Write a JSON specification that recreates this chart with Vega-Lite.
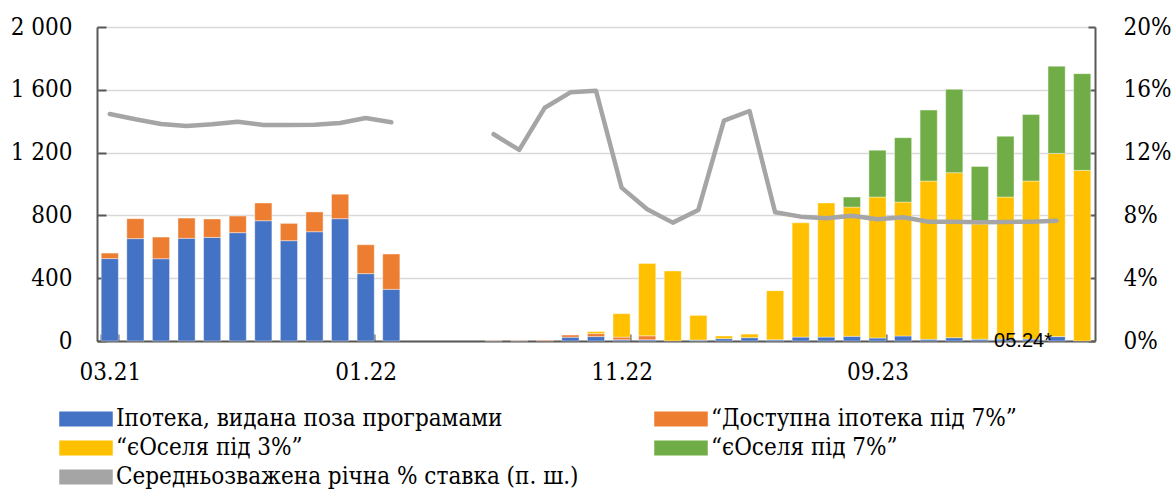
{
  "$schema": "https://vega.github.io/schema/vega-lite/v6.json",
  "width": 998,
  "height": 314,
  "autosize": {"type": "none"},
  "padding": {"left": 97, "top": 27, "right": 79, "bottom": 148},
  "background": "white",
  "config": {
    "font": "DejaVu Serif Condensed, DejaVu Serif",
    "view": {"stroke": null},
    "axis": {
      "labelFont": "DejaVu Serif Condensed, DejaVu Serif",
      "labelFontSize": 24,
      "labelColor": "black",
      "domainColor": "#595959",
      "domainWidth": 2,
      "tickColor": "#595959",
      "tickWidth": 2,
      "title": null
    }
  },
  "datasets": {
    "bars": [
      {"month": "03.21", "series": "Іпотека, видана поза програмами", "value": 525},
      {"month": "03.21", "series": "“Доступна іпотека під 7%”", "value": 35},
      {"month": "04.21", "series": "Іпотека, видана поза програмами", "value": 652},
      {"month": "04.21", "series": "“Доступна іпотека під 7%”", "value": 127},
      {"month": "05.21", "series": "Іпотека, видана поза програмами", "value": 524},
      {"month": "05.21", "series": "“Доступна іпотека під 7%”", "value": 138},
      {"month": "06.21", "series": "Іпотека, видана поза програмами", "value": 654},
      {"month": "06.21", "series": "“Доступна іпотека під 7%”", "value": 129},
      {"month": "07.21", "series": "Іпотека, видана поза програмами", "value": 660},
      {"month": "07.21", "series": "“Доступна іпотека під 7%”", "value": 117},
      {"month": "08.21", "series": "Іпотека, видана поза програмами", "value": 690},
      {"month": "08.21", "series": "“Доступна іпотека під 7%”", "value": 106},
      {"month": "09.21", "series": "Іпотека, видана поза програмами", "value": 766},
      {"month": "09.21", "series": "“Доступна іпотека під 7%”", "value": 113},
      {"month": "10.21", "series": "Іпотека, видана поза програмами", "value": 639},
      {"month": "10.21", "series": "“Доступна іпотека під 7%”", "value": 110},
      {"month": "11.21", "series": "Іпотека, видана поза програмами", "value": 696},
      {"month": "11.21", "series": "“Доступна іпотека під 7%”", "value": 126},
      {"month": "12.21", "series": "Іпотека, видана поза програмами", "value": 779},
      {"month": "12.21", "series": "“Доступна іпотека під 7%”", "value": 156},
      {"month": "01.22", "series": "Іпотека, видана поза програмами", "value": 429},
      {"month": "01.22", "series": "“Доступна іпотека під 7%”", "value": 184},
      {"month": "02.22", "series": "Іпотека, видана поза програмами", "value": 329},
      {"month": "02.22", "series": "“Доступна іпотека під 7%”", "value": 225},
      {"month": "06.22", "series": "“Доступна іпотека під 7%”", "value": 2},
      {"month": "07.22", "series": "“Доступна іпотека під 7%”", "value": 2},
      {"month": "08.22", "series": "“Доступна іпотека під 7%”", "value": 5},
      {"month": "09.22", "series": "Іпотека, видана поза програмами", "value": 24},
      {"month": "09.22", "series": "“Доступна іпотека під 7%”", "value": 14},
      {"month": "10.22", "series": "Іпотека, видана поза програмами", "value": 28},
      {"month": "10.22", "series": "“Доступна іпотека під 7%”", "value": 19},
      {"month": "10.22", "series": "“єОселя під 3%”", "value": 13},
      {"month": "11.22", "series": "Іпотека, видана поза програмами", "value": 8},
      {"month": "11.22", "series": "“Доступна іпотека під 7%”", "value": 17},
      {"month": "11.22", "series": "“єОселя під 3%”", "value": 149},
      {"month": "12.22", "series": "Іпотека, видана поза програмами", "value": 8},
      {"month": "12.22", "series": "“Доступна іпотека під 7%”", "value": 25},
      {"month": "12.22", "series": "“єОселя під 3%”", "value": 461},
      {"month": "01.23", "series": "“єОселя під 3%”", "value": 446},
      {"month": "02.23", "series": "Іпотека, видана поза програмами", "value": 6},
      {"month": "02.23", "series": "“єОселя під 3%”", "value": 157},
      {"month": "03.23", "series": "Іпотека, видана поза програмами", "value": 15},
      {"month": "03.23", "series": "“єОселя під 3%”", "value": 17},
      {"month": "04.23", "series": "Іпотека, видана поза програмами", "value": 21},
      {"month": "04.23", "series": "“єОселя під 3%”", "value": 23},
      {"month": "05.23", "series": "Іпотека, видана поза програмами", "value": 8},
      {"month": "05.23", "series": "“єОселя під 3%”", "value": 312},
      {"month": "06.23", "series": "Іпотека, видана поза програмами", "value": 25},
      {"month": "06.23", "series": "“єОселя під 3%”", "value": 728},
      {"month": "07.23", "series": "Іпотека, видана поза програмами", "value": 25},
      {"month": "07.23", "series": "“єОселя під 3%”", "value": 854},
      {"month": "08.23", "series": "Іпотека, видана поза програмами", "value": 30},
      {"month": "08.23", "series": "“єОселя під 3%”", "value": 823},
      {"month": "08.23", "series": "“єОселя під 7%”", "value": 64},
      {"month": "09.23", "series": "Іпотека, видана поза програмами", "value": 19},
      {"month": "09.23", "series": "“єОселя під 3%”", "value": 898},
      {"month": "09.23", "series": "“єОселя під 7%”", "value": 298},
      {"month": "10.23", "series": "Іпотека, видана поза програмами", "value": 32},
      {"month": "10.23", "series": "“єОселя під 3%”", "value": 853},
      {"month": "10.23", "series": "“єОселя під 7%”", "value": 410},
      {"month": "11.23", "series": "Іпотека, видана поза програмами", "value": 11},
      {"month": "11.23", "series": "“єОселя під 3%”", "value": 1008},
      {"month": "11.23", "series": "“єОселя під 7%”", "value": 452},
      {"month": "12.23", "series": "Іпотека, видана поза програмами", "value": 21},
      {"month": "12.23", "series": "“єОселя під 3%”", "value": 1051},
      {"month": "12.23", "series": "“єОселя під 7%”", "value": 531},
      {"month": "01.24", "series": "Іпотека, видана поза програмами", "value": 11},
      {"month": "01.24", "series": "“єОселя під 3%”", "value": 734},
      {"month": "01.24", "series": "“єОселя під 7%”", "value": 367},
      {"month": "02.24", "series": "Іпотека, видана поза програмами", "value": 12},
      {"month": "02.24", "series": "“єОселя під 3%”", "value": 905},
      {"month": "02.24", "series": "“єОселя під 7%”", "value": 387},
      {"month": "03.24", "series": "Іпотека, видана поза програмами", "value": 12},
      {"month": "03.24", "series": "“єОселя під 3%”", "value": 1007},
      {"month": "03.24", "series": "“єОселя під 7%”", "value": 423},
      {"month": "04.24", "series": "Іпотека, видана поза програмами", "value": 28},
      {"month": "04.24", "series": "“єОселя під 3%”", "value": 1167},
      {"month": "04.24", "series": "“єОселя під 7%”", "value": 555},
      {"month": "05.24", "series": "“єОселя під 3%”", "value": 1087},
      {"month": "05.24", "series": "“єОселя під 7%”", "value": 616}
    ],
    "rate": [
      {"month": "03.21", "rate": 14.46, "seg": 1},
      {"month": "04.21", "rate": 14.12, "seg": 1},
      {"month": "05.21", "rate": 13.82, "seg": 1},
      {"month": "06.21", "rate": 13.69, "seg": 1},
      {"month": "07.21", "rate": 13.8, "seg": 1},
      {"month": "08.21", "rate": 13.97, "seg": 1},
      {"month": "09.21", "rate": 13.76, "seg": 1},
      {"month": "10.21", "rate": 13.76, "seg": 1},
      {"month": "11.21", "rate": 13.78, "seg": 1},
      {"month": "12.21", "rate": 13.89, "seg": 1},
      {"month": "01.22", "rate": 14.2, "seg": 1},
      {"month": "02.22", "rate": 13.93, "seg": 1},
      {"month": "06.22", "rate": 13.17, "seg": 2},
      {"month": "07.22", "rate": 12.17, "seg": 2},
      {"month": "08.22", "rate": 14.86, "seg": 2},
      {"month": "09.22", "rate": 15.84, "seg": 2},
      {"month": "10.22", "rate": 15.94, "seg": 2},
      {"month": "11.22", "rate": 9.77, "seg": 2},
      {"month": "12.22", "rate": 8.39, "seg": 2},
      {"month": "01.23", "rate": 7.54, "seg": 2},
      {"month": "02.23", "rate": 8.35, "seg": 2},
      {"month": "03.23", "rate": 14.04, "seg": 2},
      {"month": "04.23", "rate": 14.65, "seg": 2},
      {"month": "05.23", "rate": 8.2, "seg": 2},
      {"month": "06.23", "rate": 7.92, "seg": 2},
      {"month": "07.23", "rate": 7.82, "seg": 2},
      {"month": "08.23", "rate": 7.98, "seg": 2},
      {"month": "09.23", "rate": 7.75, "seg": 2},
      {"month": "10.23", "rate": 7.88, "seg": 2},
      {"month": "11.23", "rate": 7.6, "seg": 2},
      {"month": "12.23", "rate": 7.6, "seg": 2},
      {"month": "01.24", "rate": 7.56, "seg": 2},
      {"month": "02.24", "rate": 7.58, "seg": 2},
      {"month": "03.24", "rate": 7.6, "seg": 2},
      {"month": "04.24", "rate": 7.66, "seg": 2}
    ],
    "note": [{"label": "05.24*"}]
  },
  "layer": [
    {
      "layer": [
        {
          "data": {"name": "bars"},
          "mark": {"type": "bar", "stroke": "white", "strokeWidth": 0.8, "strokeOpacity": 0.5},
          "encoding": {
            "x": {
              "field": "month",
              "type": "nominal",
              "sort": null,
              "scale": {
                "domain": ["03.21","04.21","05.21","06.21","07.21","08.21","09.21","10.21","11.21","12.21","01.22","02.22","03.22","04.22","05.22","06.22","07.22","08.22","09.22","10.22","11.22","12.22","01.23","02.23","03.23","04.23","05.23","06.23","07.23","08.23","09.23","10.23","11.23","12.23","01.24","02.24","03.24","04.24","05.24"],
                "paddingInner": 0.33,
                "paddingOuter": 0.165
              },
              "axis": {
                "values": ["03.21", "01.22", "11.22", "09.23"],
                "labelAngle": 0,
                "tickBand": "extent",
                "tickSize": -7,
                "labelPadding": 26,
                "grid": false
              }
            },
            "y": {
              "field": "value",
              "type": "quantitative",
              "stack": "zero",
              "scale": {"domain": [0, 2000], "nice": false},
              "axis": {
                "values": [0, 400, 800, 1200, 1600, 2000],
                "labelExpr": "replace(format(datum.value, ','), ',', ' ')",
                "grid": true,
                "gridColor": "#d9d9d9",
                "gridWidth": 1.5,
                "tickSize": -9,
                "labelPadding": 34
              }
            },
            "order": {"field": "series", "type": "nominal", "sort": "ascending"},
            "color": {
              "field": "series",
              "type": "nominal",
              "scale": {
                "domain": ["Іпотека, видана поза програмами", "“Доступна іпотека під 7%”", "“єОселя під 3%”", "“єОселя під 7%”", "Середньозважена річна % ставка (п. ш.)"],
                "range": ["#4472C4", "#ED7D31", "#FFC000", "#70AD47", "#A5A5A5"]
              },
              "legend": {
                "orient": "none",
                "direction": "horizontal",
                "legendX": -39,
                "legendY": 380,
                "columns": 2,
                "columnPadding": 73,
                "rowPadding": 5,
                "padding": 0,
                "title": null,
                "labelFont": "DejaVu Serif Condensed, DejaVu Serif",
                "labelFontSize": 24,
                "labelColor": "black",
                "labelLimit": 0,
                "labelOffset": 34,
                "symbolSize": 400,
                "symbolType": "M-1,-0.667H4.2V0.667H-1Z",
                "encode": {
                  "symbols": {
                    "update": {
                      "shape": {"signal": "indexof(datum.value, 'Середньо') === 0 ? 'M-0.9,-0.2H4.1V0.2H-0.9Z' : 'M-1,-0.667H4.2V0.667H-1Z'"},
                      "fill": {"scale": "color", "field": "value"},
                      "fillOpacity": {"value": 1},
                      "stroke": {"signal": "indexof(datum.value, 'Середньо') === 0 ? '#A5A5A5' : 'transparent'"},
                      "strokeWidth": {"value": 1.5},
                      "strokeJoin": {"value": "round"},
                      "opacity": {"value": 1}
                    }
                  }
                }
              }
            }
          }
        },
        {
          "data": {"name": "note"},
          "mark": {"type": "text", "font": "Liberation Sans", "fontSize": 20, "align": "center", "baseline": "alphabetic", "dx": -8, "dy": 6, "color": "black"},
          "encoding": {
            "x": {"datum": "03.24", "type": "nominal"},
            "y": {"datum": 0, "type": "quantitative"},
            "text": {"field": "label"}
          }
        }
      ]
    },
    {
      "data": {"name": "rate"},
      "mark": {"type": "line", "strokeWidth": 4.5, "strokeCap": "round", "strokeJoin": "round"},
      "encoding": {
        "x": {"field": "month", "type": "nominal", "sort": null},
        "y": {
          "field": "rate",
          "type": "quantitative",
          "scale": {"domain": [0, 20], "nice": false},
          "axis": {
            "orient": "right",
            "values": [0, 4, 8, 12, 16, 20],
            "labelExpr": "datum.value + '%'",
            "grid": false,
            "tickSize": -7,
            "labelPadding": 35
          }
        },
        "color": {"datum": "Середньозважена річна % ставка (п. ш.)"},
        "detail": {"field": "seg", "type": "nominal"}
      }
    }
  ],
  "resolve": {"scale": {"y": "independent"}}
}
